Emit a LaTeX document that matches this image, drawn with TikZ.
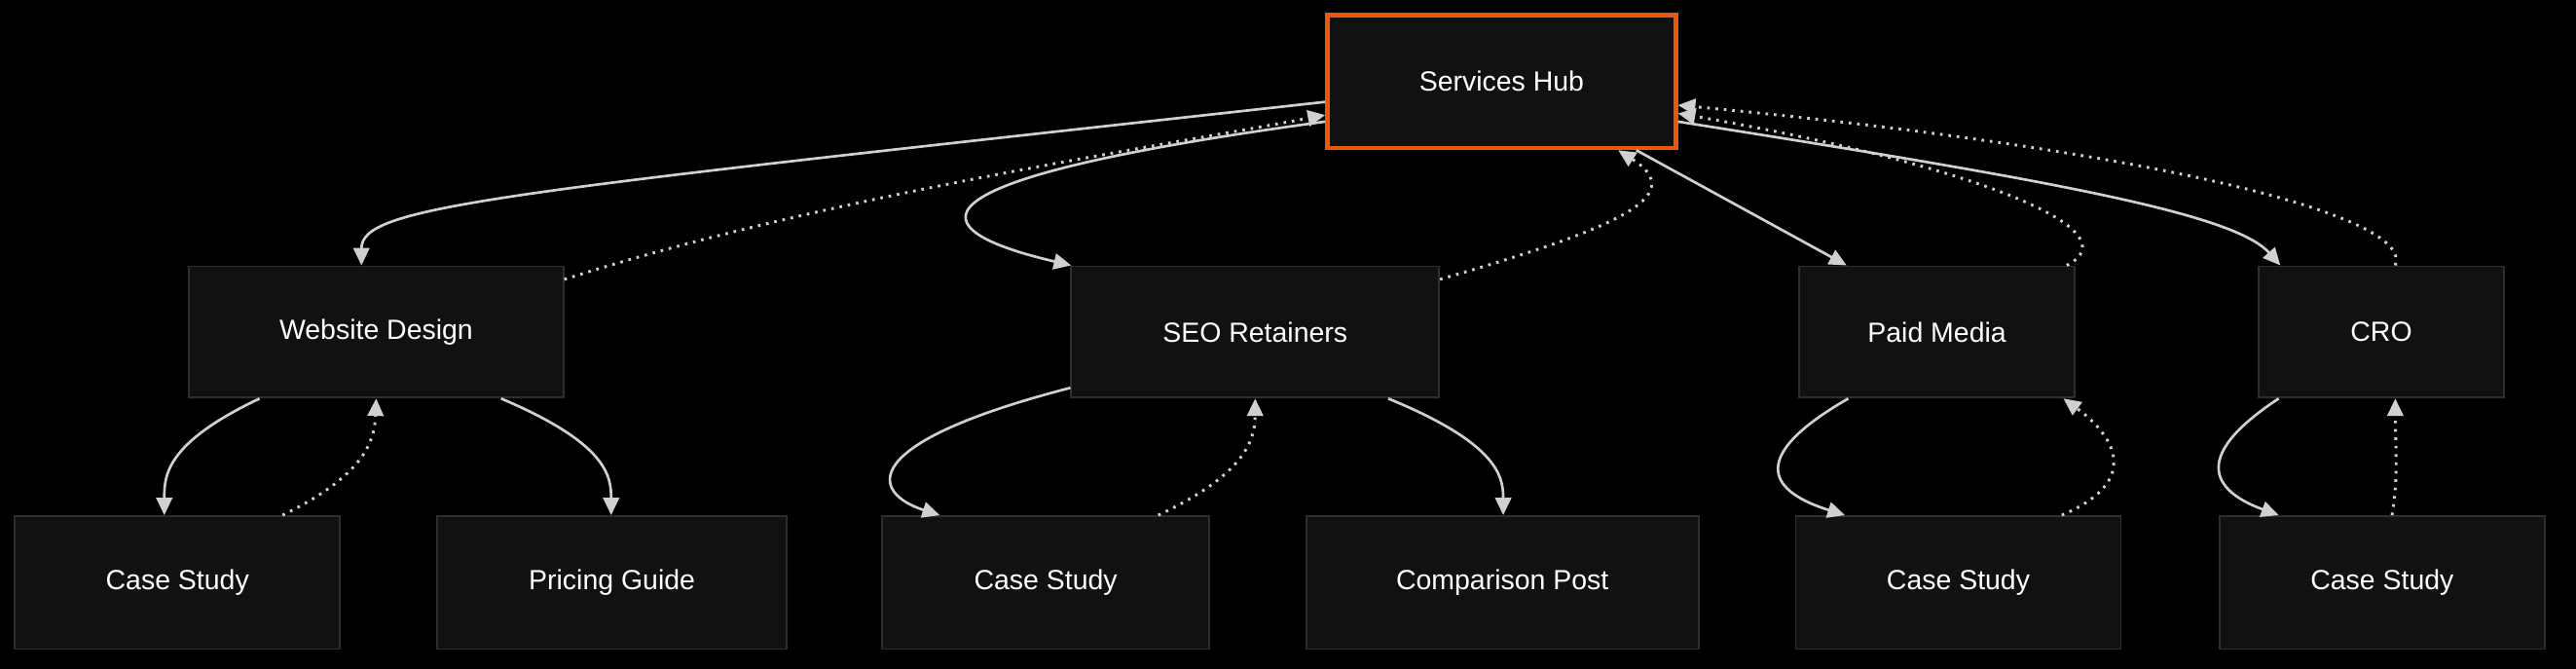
\documentclass[tikz,border=0pt]{standalone}
\usepackage{fontspec}
\setmainfont{Liberation Sans}
\usetikzlibrary{arrows.meta}
\definecolor{bg}{HTML}{000000}
\definecolor{nodefill}{HTML}{111111}
\definecolor{nodeborder}{HTML}{2E2E2E}
\definecolor{hubborder}{HTML}{E8590C}
\definecolor{edge}{HTML}{D0D0D0}
\begin{document}
\begin{tikzpicture}[x=0.02cm,y=-0.02cm,
  box/.style={draw=nodeborder,line width=0.6pt,fill=nodefill,text=white,font=\fontsize{9.6}{11}\selectfont,inner sep=0pt},
  hub/.style={box,draw=hubborder,line width=1.6pt},
  link/.style={draw=edge,line width=0.9pt,-{Triangle[length=6pt,width=5.5pt]}},
  back/.style={link,dotted,line width=1pt}]
\fill[bg] (0,0) rectangle (1568,407);
\useasboundingbox (0,0) rectangle (1568,407);
\newcommand{\mkbox}[6]{\node[#1,minimum width={(#4-#3)*0.02cm},minimum height={(#6-#5)*0.02cm}] (#2) at ({(#3+#4)/2},{(#5+#6)/2}) {};}
\node[hub,minimum width=4.24cm,minimum height=1.62cm] (hub) at (914,49.5) {Services Hub};
\node[box,minimum width=4.56cm,minimum height=1.6cm] (wd) at (229,202) {Website Design};
\node[box,minimum width=4.48cm,minimum height=1.6cm] (seo) at (764,202) {SEO Retainers};
\node[box,minimum width=3.36cm,minimum height=1.6cm] (pm) at (1179,202) {Paid Media};
\node[box,minimum width=2.98cm,minimum height=1.6cm] (cro) at (1449.5,202) {CRO};
\node[box,minimum width=3.96cm,minimum height=1.62cm] (c1) at (108,354.5) {Case Study};
\node[box,minimum width=4.26cm,minimum height=1.62cm] (pg) at (372.5,354.5) {Pricing Guide};
\node[box,minimum width=3.98cm,minimum height=1.62cm] (c2) at (636.5,354.5) {Case Study};
\node[box,minimum width=4.78cm,minimum height=1.62cm] (cp) at (914.5,354.5) {Comparison Post};
\node[box,minimum width=3.96cm,minimum height=1.62cm] (c3) at (1192,354.5) {Case Study};
\node[box,minimum width=3.96cm,minimum height=1.62cm] (c4) at (1450,354.5) {Case Study};
% top level
\draw[link] (hub.west |- 0,62) .. controls (300,118) and (220,125) .. (wd.north -| 220,0);
\draw[back] (wd.east |- 0,170) .. controls (500,120) and (700,90) .. (hub.west |- 0,70);
\draw[link] (hub.west |- 0,74) .. controls (540,110) and (560,140) .. (seo.north -| 652,0);
\draw[back] (seo.east |- 0,170) .. controls (980,140) and (1030,120) .. (hub.south -| 985,0);
\draw[link] (hub.south -| 996,0) -- (pm.north -| 1124,0);
\draw[back] (pm.north -| 1258,0) .. controls (1300,140) and (1200,100) .. (hub.east |- 0,69);
\draw[link] (hub.east |- 0,74) .. controls (1250,110) and (1360,130) .. (cro.north -| 1388,0);
\draw[back] (cro.north -| 1458,0) .. controls (1470,130) and (1300,90) .. (hub.east |- 0,64);
% children
\draw[link] (wd.south -| 158,0) .. controls (100,270) and (100,290) .. (c1.north -| 100,0);
\draw[back] (c1.north -| 172,0) .. controls (220,290) and (228,270) .. (wd.south -| 229,0);
\draw[link] (wd.south -| 305,0) .. controls (370,270) and (372,290) .. (pg.north -| 372,0);
\draw[link] (seo.west |- 0,236) .. controls (520,270) and (530,300) .. (c2.north -| 572,0);
\draw[back] (c2.north -| 705,0) .. controls (755,290) and (764,270) .. (seo.south -| 764,0);
\draw[link] (seo.south -| 845,0) .. controls (912,270) and (915,290) .. (cp.north -| 915,0);
\draw[link] (pm.south -| 1125,0) .. controls (1060,280) and (1080,300) .. (c3.north -| 1123,0);
\draw[back] (c3.north -| 1255,0) .. controls (1310,290) and (1280,260) .. (pm.south -| 1256,0);
\draw[link] (cro.south -| 1387,0) .. controls (1330,280) and (1350,300) .. (c4.north -| 1387,0);
\draw[back] (c4.north -| 1456,0) .. controls (1460,290) and (1458,270) .. (cro.south -| 1458,0);
\end{tikzpicture}
\end{document}
